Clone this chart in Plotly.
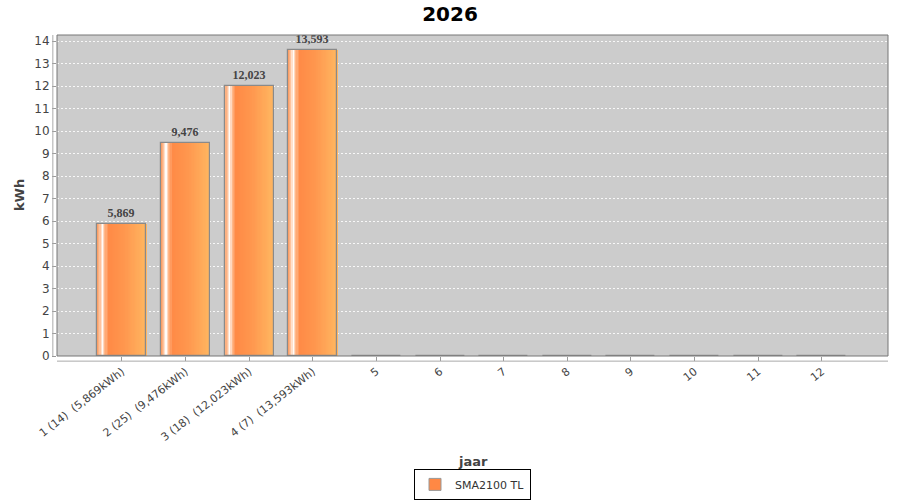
import plotly.graph_objects as go

months = [1, 2, 3, 4, 5, 6, 7, 8, 9, 10, 11, 12]
tick_labels = ["1 (14)  (5,869kWh)", "2 (25)  (9,476kWh)", "3 (18)  (12,023kWh)",
               "4 (7)  (13,593kWh)", "5", "6", "7", "8", "9", "10", "11", "12"]
values = [5.869, 9.476, 12.023, 13.593, 0, 0, 0, 0, 0, 0, 0, 0]
value_labels = ["5,869", "9,476", "12,023", "13,593", "", "", "", "", "", "", "", ""]
series_name = "SMA2100 TL"

x = list(range(len(months)))
BW = 0.77

# horizontal gradient profile across each bar (fraction, colour)
stops = [(0.00, (248, 150, 90)), (0.07, (255, 200, 165)), (0.11, (255, 255, 255)),
         (0.16, (255, 185, 140)), (0.24, (255, 138, 70)), (0.55, (255, 150, 78)),
         (1.00, (255, 182, 96))]

def col(t):
    for (t0, c0), (t1, c1) in zip(stops, stops[1:]):
        if t0 <= t <= t1:
            f = (t - t0) / (t1 - t0) if t1 > t0 else 0
            return "rgb(%d,%d,%d)" % tuple(round(a + (b - a) * f) for a, b in zip(c0, c1))
    return "rgb(%d,%d,%d)" % stops[-1][1]

fig = go.Figure()
N = 40
for i in range(N):
    t0 = i / N
    fig.add_trace(go.Bar(
        x=x, y=values, width=BW / N * 1.05, offset=-BW / 2 + BW * t0,
        marker=dict(color=col(t0 + 0.5 / N), line=dict(width=0)),
        showlegend=False, hoverinfo="skip"))

# outline + labels
fig.add_trace(go.Bar(
    x=x, y=values, width=BW, name=series_name,
    marker=dict(color="rgba(0,0,0,0)", line=dict(color="#8a8a8a", width=1.2)),
    text=value_labels, texttemplate="<b>%{text}</b>", textposition="outside", cliponaxis=False,
    textfont=dict(family="Liberation Serif", size=12, color="#444444"),
    showlegend=False))
# legend-only entry
fig.add_trace(go.Bar(x=[None], y=[None], name=series_name,
                     marker=dict(color="#FF8844", line=dict(color="#999999", width=1))))

fig.update_layout(
    width=900, height=500,
    margin=dict(l=57, r=12, t=35, b=144, autoexpand=False),
    paper_bgcolor="white", plot_bgcolor="#CCCCCC",
    barmode="overlay", bargap=0,
    title=dict(text="<b>2026</b>", x=0.5, xanchor="center", y=0.972, yanchor="middle",
               font=dict(family="DejaVu Sans", size=20, color="black")),
    font=dict(family="DejaVu Sans", size=12, color="#444444"),
    showlegend=True,
    legend=dict(orientation="h", x=0.5, xanchor="center", y=-0.4, yanchor="middle",
                bordercolor="black", borderwidth=1, bgcolor="white",
                font=dict(family="DejaVu Sans", size=11, color="#333333"),
                itemwidth=30, tracegroupgap=0),
)
fig.update_xaxes(
    range=[-1.02, 12.04], tickmode="array", tickvals=x, ticktext=tick_labels,
    tickangle=-38, showgrid=False, zeroline=False, showline=False, automargin=False,
    ticks="outside", ticklen=4, tickcolor="#999999",
    tickfont=dict(family="DejaVu Sans", size=11, color="#444444"))
fig.update_yaxes(
    range=[0, 14.27], tickmode="linear", tick0=0, dtick=1, automargin=False,
    showgrid=True, gridcolor="rgba(255,255,255,0.85)", griddash="2px,2px", gridwidth=0.5,
    zeroline=False, showline=False, ticks="outside", ticklen=4, tickcolor="#999999",
    tickfont=dict(family="DejaVu Sans", size=12, color="#444444"))

# plot border, offset axis lines
fig.add_shape(type="rect", xref="paper", yref="paper", x0=0, x1=1, y0=0, y1=1,
              line=dict(color="#777777", width=1), fillcolor="rgba(0,0,0,0)")
fig.add_shape(type="line", xref="paper", yref="paper", x0=0, x1=1, y0=-0.016, y1=-0.016,
              line=dict(color="#aaaaaa", width=1))
fig.add_shape(type="line", xref="paper", yref="paper", x0=-0.005, x1=-0.005, y0=0, y1=1,
              line=dict(color="#aaaaaa", width=1))

fig.add_annotation(text="<b>jaar</b>", xref="paper", yref="paper", x=0.5, y=-0.328,
                   showarrow=False, yanchor="middle",
                   font=dict(family="DejaVu Sans", size=13, color="#444444"))
fig.add_annotation(text="<b>kWh</b>", xref="paper", yref="paper", x=-0.045, y=0.5,
                   textangle=-90, showarrow=False, xanchor="center",
                   font=dict(family="DejaVu Sans", size=13, color="#444444"))

fig.write_html("out.html", config={"displayModeBar": False},
               post_script="document.body.style.margin='0';document.body.style.overflow='hidden';")
